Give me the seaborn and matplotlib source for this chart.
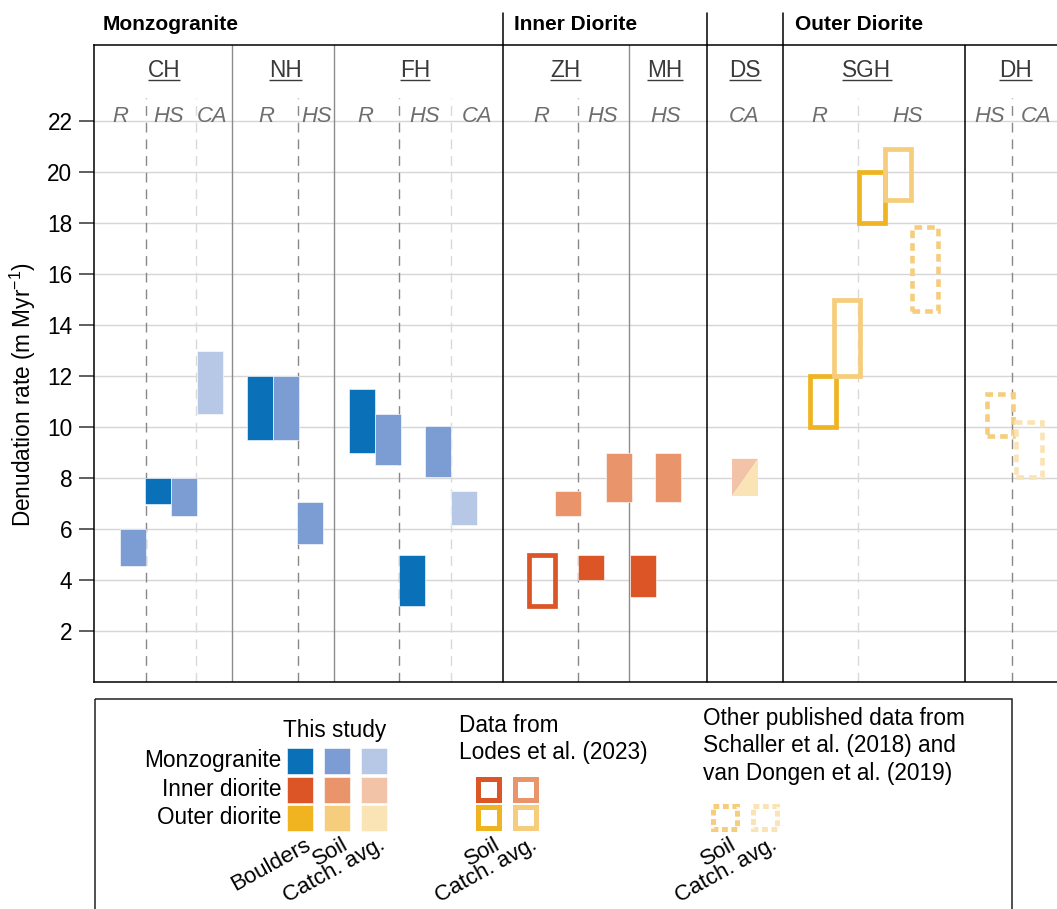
import matplotlib
matplotlib.use("Agg")
import matplotlib.pyplot as plt
from matplotlib.patches import Rectangle
import seaborn as sns

sns.set_theme(style="white")
plt.rcParams["font.family"] = ["Liberation Sans", "DejaVu Sans"]
plt.rcParams["text.color"] = "black"
plt.rcParams["axes.labelcolor"] = "black"
plt.rcParams["mathtext.fontset"] = "custom"
plt.rcParams["mathtext.rm"] = "Liberation Sans"
plt.rcParams["mathtext.it"] = "Liberation Sans:italic"
plt.rcParams["lines.scale_dashes"] = False

# ---------------------------------------------------------------- data
groups = ["Monzogranite", "Inner Diorite", "Outer Diorite"]
sites = ["CH", "NH", "FH", "ZH", "MH", "DS", "SGH", "DH"]
sub_labels = ["R", "HS", "CA", "R", "HS", "R", "HS", "CA",
              "R", "HS", "HS", "CA", "R", "HS", "HS", "CA"]

# denudation-rate ranges (m/Myr)
rate_lithology = ["Monzogranite"] * 12 + ["Inner diorite"] * 6 + ["Outer diorite"] * 7
rate_source = (["This study"] * 12
               + ["Lodes"] + ["This study"] * 5
               + ["Lodes"] * 4 + ["Other"] * 3)
rate_sample = ["soil", "boulder", "soil", "catch",
               "boulder", "soil", "soil",
               "boulder", "soil", "boulder", "soil", "catch",
               "soil", "soil", "boulder", "soil", "boulder", "soil",
               "soil", "catch", "soil", "catch", "soil", "soil", "catch"]
rate_low = [4.55, 7.0, 6.5, 10.5,
            9.5, 9.5, 5.4,
            9.0, 8.5, 3.0, 8.05, 6.15,
            3.0, 6.5, 4.0, 7.05, 3.35, 7.05,
            10.0, 12.0, 18.0, 18.9, 14.55, 9.65, 8.05]
rate_high = [6.0, 8.0, 8.0, 13.0,
             12.0, 12.0, 7.05,
             11.5, 10.5, 5.0, 10.05, 7.5,
             5.0, 7.5, 5.0, 9.0, 5.0, 9.0,
             12.0, 15.0, 20.0, 20.9, 17.85, 11.3, 10.2]

# DS catchment drains both diorites
ds_low, ds_high = 7.3, 8.75

# ---------------------------------------------------------------- styling
palette = {
    "Monzogranite": ["#0a71b9", "#7b9dd3", "#b6c8e6"],
    "Inner diorite": ["#db5527", "#e9946b", "#f3c3a8"],
    "Outer diorite": ["#efb420", "#f5cd7c", "#fae3b5"],
}
tone = {
    ("This study", "boulder"): 0, ("This study", "soil"): 1, ("This study", "catch"): 2,
    ("Lodes", "soil"): 0, ("Lodes", "catch"): 1,
    ("Other", "soil"): 1, ("Other", "catch"): 2,
}

# horizontal layout (pixel-like x units)
box_w = 26
box_x = [120, 145, 171, 197,
         247, 273, 297,
         349, 375, 399, 425, 451,
         528.5, 555, 578, 606, 630, 655,
         810, 834, 859, 885, 912, 987, 1016]
ds_x = 732
group_x = [103, 514, 795]
group_sep = [503, 707, 783]
site_x = [164, 285.5, 415.3, 565.5, 665, 745, 867, 1015.7]
site_sep = [232, 334, 629]
outer_sep = 965
sub_x = [120, 169, 211.7, 265.8, 316.7, 365, 424.7, 476.7,
         541, 602.3, 665.8, 744.3, 819.7, 908, 990, 1036]
dash_dark = [146, 298, 399, 578, 1012]
dash_light = [196, 451, 858]

W, H = 1057, 909
px_per_unit = 25.5
y_zero_px = 682


def ydata(py):
    return (y_zero_px - py) / px_per_unit


fig = plt.figure(figsize=(W / 100, H / 100), dpi=100)
ax = fig.add_axes([94 / W, (H - y_zero_px) / H, (W - 94) / W, (y_zero_px - 44.5) / H])
ax.set_xlim(94, W)
ax.set_ylim(0, 25)
ax.set_xticks([])
ax.set_yticks(range(2, 23, 2))
ax.tick_params(axis="y", left=True, length=10.5, width=1.1, pad=5, labelsize=16.3,
               color="#333333", labelcolor="black")
ax.yaxis.grid(True, color="#d6d6d6", linewidth=1)
ax.set_axisbelow(True)
for side in ["left", "top", "bottom"]:
    ax.spines[side].set_color("black")
    ax.spines[side].set_linewidth(1.1)
ax.spines["right"].set_visible(False)
ax.set_ylabel("Denudation rate (m Myr$^{-1}$)", fontsize=16.3)
ax.yaxis.set_label_coords(-0.0585, 0.45)

# separators
top_ext = ydata(12.7) / 25
for x in group_sep:
    ax.axvline(x, 0, top_ext, color="black", lw=1.1, clip_on=False, zorder=2)
ax.axvline(outer_sep, 0, 1, color="black", lw=1.1, zorder=2)
for x in site_sep:
    ax.axvline(x, 0, 1, color="#8c8c8c", lw=1.0, zorder=2)
dash_top = ydata(98) / 25
for x in dash_dark:
    ax.axvline(x, 0, dash_top, color="#888888", lw=1.0, ls=(0, (7, 5)), zorder=2)
for x in dash_light:
    ax.axvline(x, 0, dash_top, color="#d9d9d9", lw=1.0, ls=(0, (7, 5)), zorder=2)

# rate ranges
for x, lo, hi, lith, src, smp in zip(box_x, rate_low, rate_high,
                                     rate_lithology, rate_source, rate_sample):
    c = palette[lith][tone[(src, smp)]]
    if src == "This study":
        ax.bar(x, hi - lo, bottom=lo, width=box_w, align="edge", color=c,
               edgecolor=(1, 1, 1, 0.6), linewidth=0.7, zorder=3)
    elif src == "Lodes":
        ax.bar(x, hi - lo, bottom=lo, width=box_w, align="edge", fill=False,
               edgecolor=c, linewidth=3.4, zorder=4)
    else:
        ax.bar(x, hi - lo, bottom=lo, width=box_w, align="edge", fill=False,
               edgecolor=c, linewidth=3.3, linestyle=(0, (5.5, 3.6)), zorder=4)

# DS: split swatch, inner diorite (upper left) / outer diorite (lower right)
ax.fill([ds_x, ds_x + box_w, ds_x], [ds_low, ds_high, ds_high],
        color=palette["Inner diorite"][2], lw=0, zorder=3)
ax.fill([ds_x, ds_x + box_w, ds_x + box_w], [ds_low, ds_low, ds_high],
        color=palette["Outer diorite"][2], lw=0, zorder=3)

# header text
for x, g in zip(group_x, groups):
    ax.text(x, ydata(29.5), g, fontsize=15, fontweight="bold", ha="left",
            va="baseline", clip_on=False)
site_texts = []
for x, s in zip(site_x, sites):
    t = ax.text(x, ydata(77.3), s, fontsize=16.3, color="#3a3a3a", ha="center",
                va="baseline", clip_on=False)
    site_texts.append(t)
for x, s in zip(sub_x, sub_labels):
    ax.text(x, ydata(121.5), s, fontsize=15.8, style="italic", color="#6e6e6e",
            ha="center", va="baseline", clip_on=False, zorder=5)

fig.canvas.draw()
renderer = fig.canvas.get_renderer()
inv = ax.transData.inverted()
for t in site_texts:
    bb = t.get_window_extent(renderer)
    x0 = inv.transform((bb.x0, 0))[0]
    x1 = inv.transform((bb.x1, 0))[0]
    ax.plot([x0, x1], [ydata(79.6)] * 2, color="#3a3a3a", lw=1.0, clip_on=False,
            solid_capstyle="butt")

# ---------------------------------------------------------------- legend panel
lg = fig.add_axes([0, 0, 1, 1], zorder=6)
lg.set_xlim(0, W)
lg.set_ylim(H, 0)
lg.axis("off")
lg.patch.set_alpha(0)
lg.add_patch(Rectangle((94.5, 699), 1012 - 94.5, 240, fill=False,
                       edgecolor="#222222", lw=1.1, clip_on=False))

lith_rows = ["Monzogranite", "Inner diorite", "Outer diorite"]
sq = 26
fs_leg = 16.3
fs_rot = 16


def rotated(x, y, s):
    lg.text(x, y, s, fontsize=fs_rot, rotation=29, rotation_mode="anchor",
            ha="right", va="top")


# this study
cols = [287.3, 324.3, 361]
rows = [748.3, 777, 805]
lg.text(335, 737, "This study", fontsize=fs_leg, ha="center", va="baseline")
for r, lith in zip(rows, lith_rows):
    lg.text(281, r + sq / 2 + 6, lith, fontsize=fs_leg, ha="right", va="baseline")
    for k, cx in enumerate(cols):
        lg.add_patch(Rectangle((cx, r), sq, sq, facecolor=palette[lith][k],
                               edgecolor=(1, 1, 1, 0.6), lw=0.7))
for cx, s in zip(cols, ["Boulders", "Soil", "Catch. avg."]):
    rotated(cx + sq / 2 + 4, 834, s)

# Lodes et al. (2023)
lcols = [475.3, 512.3]
lrows = [776.7, 804.3]
for yb, s in zip([732, 759], ["Data from", "Lodes et al. (2023)"]):
    lg.text(459, yb, s, fontsize=fs_leg, ha="left", va="baseline")
lw_px = 5
for r, lith in zip(lrows, ["Inner diorite", "Outer diorite"]):
    for k, cx in enumerate(lcols):
        lg.add_patch(Rectangle((cx + lw_px / 2, r + lw_px / 2), sq - lw_px, sq - lw_px,
                               fill=False, edgecolor=palette[lith][k], lw=3.6,
                               joinstyle="miter"))
for cx, s in zip(lcols, ["Soil", "Catch. avg."]):
    rotated(cx + sq / 2 + 5, 834, s)

# other published data
ocols = [710, 750.7]
for yb, s in zip([725, 752.4, 779.7], ["Other published data from",
                                       "Schaller et al. (2018) and",
                                       "van Dongen et al. (2019)"]):
    lg.text(703, yb, s, fontsize=fs_leg, ha="left", va="baseline")
for k, cx in enumerate(ocols):
    lg.add_patch(Rectangle((cx + 2.5, 803.3 + 2.5), 24, 23.5, fill=False,
                           edgecolor=palette["Outer diorite"][k + 1], lw=3.6,
                           linestyle=(0, (4.2, 2.6)), joinstyle="miter"))
for cx, s in zip(ocols, ["Soil", "Catch. avg."]):
    rotated(cx + 14.5 + 5, 834, s)

fig.savefig("out.png", dpi=100)
